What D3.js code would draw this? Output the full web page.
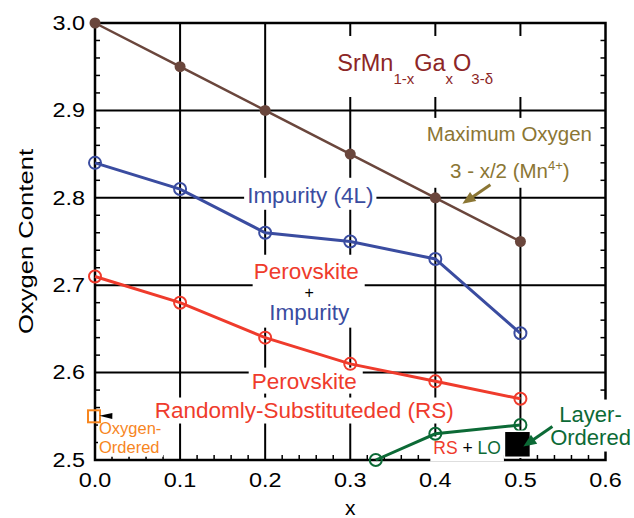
<!DOCTYPE html>
<html lang="en">
<head>
<meta charset="UTF-8">
<title>SrMn1-xGaxO3-d oxygen content</title>
<script src="https://cdn.jsdelivr.net/npm/d3@7"></script>
<style>
    body{ margin:0; background:#fff; }
    svg{ display:block; font-family:"Liberation Sans", Arial, sans-serif; }
    .grid line{ stroke:#000; stroke-width:2px; }
    .frame{ fill:none; stroke:#000; stroke-width:2.5px; }
    .minor line{ stroke:#000; stroke-width:1.5px; }
    .tick-label{ font-size:19.5px; fill:#000; }
    .axis-title{ font-size:21px; fill:#000; }
</style>
</head>
<body>
<script>
    // values
    const xTicks = [0.0, 0.1, 0.2, 0.3, 0.4, 0.5, 0.6];
    const yTicks = [2.5, 2.6, 2.7, 2.8, 2.9, 3.0];
    const xComp = [0.0, 0.1, 0.2, 0.3, 0.4, 0.5];
    const maxOxygen = [3.00, 2.95, 2.90, 2.85, 2.80, 2.75];
    const impurity4L = [2.84, 2.81, 2.76, 2.75, 2.73, 2.645];
    const perovskiteRS = [2.71, 2.68, 2.64, 2.61, 2.59, 2.57];
    const loX = [0.33, 0.40, 0.50];
    const loY = [2.50, 2.53, 2.54];
    const oxygenOrderedPt = [0.0, 2.55];
    const layerOrderedPt = [0.4965, 2.518];

    const colors = {
        brown: "#6a463c", blue: "#3a4ca0", red: "#ef3b2c", green: "#0c6a36",
        orange: "#f7861e", olive: "#8b7634", title: "#8c2626"
    };

    const width = 634, height = 518;
    const margins = { top: 23, right: 28.5, bottom: 58, left: 95 };

    const svg = d3.select("body").append("svg")
        .attr("width", width).attr("height", height)
        .attr("viewBox", `0,0,${width},${height}`);

    const xScale = d3.scaleLinear().domain([0, 0.6]).range([margins.left, width - margins.right]);
    const yScale = d3.scaleLinear().domain([2.5, 3.0]).range([height - margins.bottom, margins.top]);
    const [x0, x1] = xScale.range();
    const [y0, y1] = yScale.range();

    const gridLayer = svg.append("g").attr("class", "grid");
    const frameLayer = svg.append("g");
    const bgLayer = svg.append("g");
    const dataLayer = svg.append("g");
    const markLayer = svg.append("g");
    const textLayer = svg.append("g");
    const arrowLayer = svg.append("g");

    /* ---------- grid ---------- */
    gridLayer.selectAll(".vx").data(xTicks.slice(1, -1)).enter().append("line")
        .attr("x1", d => xScale(d)).attr("x2", d => xScale(d))
        .attr("y1", y0).attr("y2", y1);
    gridLayer.selectAll(".hy").data(yTicks.slice(1, -1)).enter().append("line")
        .attr("y1", d => yScale(d)).attr("y2", d => yScale(d))
        .attr("x1", x0).attr("x2", x1);

    /* ---------- frame + minor ticks ---------- */
    const minorY = d3.range(26).filter(i => i % 5 !== 0).map(i => 2.5 + i * 0.02);
    const minorX = d3.range(31).filter(i => i % 5 !== 0).map(i => i * 0.02);
    const minor = frameLayer.append("g").attr("class", "minor");
    minor.selectAll(".ml").data(minorY).enter().append("line")
        .attr("x1", x0).attr("x2", x0 + 5)
        .attr("y1", d => yScale(d)).attr("y2", d => yScale(d));
    minor.selectAll(".mr").data(minorY).enter().append("line")
        .attr("x1", x1 - 5).attr("x2", x1)
        .attr("y1", d => yScale(d)).attr("y2", d => yScale(d));
    minor.selectAll(".mb").data(minorX).enter().append("line")
        .attr("x1", d => xScale(d)).attr("x2", d => xScale(d))
        .attr("y1", y0).attr("y2", y0 - 5);
    frameLayer.append("rect").attr("class", "frame")
        .attr("x", x0).attr("y", y1).attr("width", x1 - x0).attr("height", y0 - y1);

    /* ---------- tick labels ---------- */
    const stretch = function (k) {
        return function () {
            const w = this.getComputedTextLength();
            d3.select(this).attr("textLength", w * k).attr("lengthAdjust", "spacingAndGlyphs");
        };
    };
    svg.append("g").selectAll("text").data(yTicks).enter().append("text")
        .attr("class", "tick-label")
        .attr("x", x0 - 10).attr("y", d => yScale(d) + 6.8)
        .attr("text-anchor", "end")
        .text(d => d3.format(".1f")(d))
        .each(stretch(1.2));
    svg.append("g").selectAll("text").data(xTicks).enter().append("text")
        .attr("class", "tick-label")
        .attr("x", d => xScale(d)).attr("y", y0 + 27)
        .attr("text-anchor", "middle")
        .text(d => d3.format(".1f")(d))
        .each(stretch(1.2));

    svg.append("text").attr("class", "axis-title")
        .attr("transform", `translate(33,${(y0 + y1) / 2}) rotate(-90)`)
        .attr("text-anchor", "middle")
        .text("Oxygen Content")
        .each(stretch(1.22));
    svg.append("text").attr("class", "axis-title")
        .attr("x", xScale(0.3)).attr("y", height - 3)
        .attr("text-anchor", "middle")
        .text("x");

    /* ---------- annotations (placed in data coords) ---------- */
    const labels = [
        { pad: [14, 34, 10, 7], lines: [
            { x: 0.2847, y: 2.9451, anchor: "start", size: 23.5, fill: colors.title,
              spans: [["SrMn"], ["1-x", "sub"], ["Ga"], ["x", "sub"], ["O"], ["3-δ", "sub"]] }] },
        { pad: [4, 5, 6, 3], lines: [
            { x: 0.4871, y: 2.8651, anchor: "middle", size: 20.5, fill: colors.olive, spans: [["Maximum Oxygen"]] },
            { x: 0.4876, y: 2.8229, anchor: "middle", size: 20.5, fill: colors.olive,
              spans: [["3 - x/2 (Mn"], ["4+", "sup"], [")"]] }] },
        { pad: [5, 3, 2, 3], lines: [
            { x: 0.1788, y: 2.7943, anchor: "start", size: 22.5, fill: colors.blue, spans: [["Impurity (4L)"]] }] },
        { pad: [4, 6, 3, 1], lines: [
            { x: 0.2482, y: 2.7074, anchor: "middle", size: 22.5, fill: colors.red, spans: [["Perovskite"]] },
            { x: 0.2518, y: 2.6857, anchor: "middle", size: 16, fill: "#000", spans: [["+"]] },
            { x: 0.2518, y: 2.6606, anchor: "middle", size: 22.5, fill: colors.blue, spans: [["Impurity"]] }] },
        { pad: [1, 6, 0, 3], lines: [
            { x: 0.2459, y: 2.5817, anchor: "middle", size: 22.5, fill: colors.red, spans: [["Perovskite"]] }] },
        { pad: [0, 3, 1, 3], lines: [
            { x: 0.2459, y: 2.5486, anchor: "middle", size: 22.5, fill: colors.red, spans: [["Randomly-Substituteded (RS)"]] }] },
        { pad: [1, 2, 1, 1], lines: [
            { x: 0.0047, y: 2.5303, anchor: "start", size: 16.5, fill: colors.orange, spans: [["Oxygen-"]] },
            { x: 0.0047, y: 2.5083, anchor: "start", size: 16.5, fill: colors.orange, spans: [["Ordered"]] }] },
        { pad: [2, 2, 2, 2], lines: [
            { x: 0.5824, y: 2.5440, anchor: "middle", size: 22, fill: colors.green, spans: [["Layer-"]] },
            { x: 0.5824, y: 2.5177, anchor: "middle", size: 22, fill: colors.green, spans: [["Ordered"]] }] },
        { pad: [2, 3, 3, 3], lines: [
            { x: 0.3976, y: 2.5063, anchor: "start", size: 17.5, fill: colors.red,
              spans: [["RS"], [" + ", "plain", "#000"], ["LO", "plain", colors.green]] }] }
    ];

    labels.forEach(group => {
        const nodes = [];
        group.lines.forEach(line => {
            const t = textLayer.append("text")
                .attr("x", xScale(line.x)).attr("y", yScale(line.y))
                .attr("text-anchor", line.anchor)
                .style("font-size", line.size + "px")
                .attr("fill", line.fill);
            let shift = 0;
            line.spans.forEach(([str, role, fill]) => {
                const target = role === "sub" ? 13 : role === "sup" ? -8 : 0;
                const sp = t.append("tspan").text(str).attr("dy", target - shift);
                if (role === "sub") sp.style("font-size", "15px");
                if (role === "sup") sp.style("font-size", "13px");
                if (fill) sp.attr("fill", fill);
                shift = target;
            });
            nodes.push(t.node());
        });
        const boxes = nodes.map(n => n.getBBox());
        const left = d3.min(boxes, b => b.x), top = d3.min(boxes, b => b.y);
        const right = d3.max(boxes, b => b.x + b.width), bottom = d3.max(boxes, b => b.y + b.height);
        const [pt, pr, pb, pl] = group.pad;
        bgLayer.append("rect")
            .attr("x", left - pl).attr("y", top - pt)
            .attr("width", right - left + pl + pr).attr("height", bottom - top + pt + pb)
            .attr("fill", "#fff");
    });

    /* ---------- series ---------- */
    const series = [
        { vals: maxOxygen, color: colors.brown, width: 2.5, filled: true },
        { vals: impurity4L, color: colors.blue, width: 3, filled: false },
        { vals: perovskiteRS, color: colors.red, width: 3, filled: false }
    ];
    const line = d3.line().x(d => xScale(d[0])).y(d => yScale(d[1]));

    series.forEach(s => {
        const pts = xComp.map((x, i) => [x, s.vals[i]]);
        dataLayer.append("path").datum(pts)
            .attr("d", line).attr("fill", "none")
            .attr("stroke", s.color).attr("stroke-width", s.width);
        markLayer.selectAll(null).data(pts).enter().append("circle")
            .attr("cx", d => xScale(d[0])).attr("cy", d => yScale(d[1]))
            .attr("r", s.filled ? 5.5 : 6)
            .attr("fill", s.filled ? s.color : "none")
            .attr("stroke", s.color).attr("stroke-width", s.filled ? 0 : 2);
    });

    const loPts = loX.map((x, i) => [x, loY[i]]);
    dataLayer.append("path").datum(loPts)
        .attr("d", line).attr("fill", "none")
        .attr("stroke", colors.green).attr("stroke-width", 3);
    markLayer.selectAll(null).data(loPts).enter().append("circle")
        .attr("cx", d => xScale(d[0])).attr("cy", d => yScale(d[1]))
        .attr("r", 6).attr("fill", "none")
        .attr("stroke", colors.green).attr("stroke-width", 2);

    // oxygen-ordered open square
    markLayer.append("rect")
        .attr("x", xScale(oxygenOrderedPt[0]) - 7).attr("y", yScale(oxygenOrderedPt[1]) - 6)
        .attr("width", 12).attr("height", 12)
        .attr("fill", "none").attr("stroke", colors.orange).attr("stroke-width", 2);

    // layer-ordered filled square
    markLayer.append("rect")
        .attr("x", xScale(layerOrderedPt[0]) - 13).attr("y", yScale(layerOrderedPt[1]) - 13)
        .attr("width", 26).attr("height", 26)
        .attr("fill", "#000").attr("stroke", "#fff").attr("stroke-width", 1.5);

    /* ---------- arrows ---------- */
    const arrows = [
        { from: [0.4647, 2.8149], to: [0.4318, 2.7931], color: colors.olive, w: 3, len: 13, half: 5.5 },
        { from: [0.5376, 2.5383], to: [0.5035, 2.5154], color: colors.green, w: 3, len: 13, half: 5.5 },
        { from: [0.0212, 2.5503], to: [0.0051, 2.5506], color: "#000", w: 0, len: 13, half: 3 }
    ];
    arrows.forEach(a => {
        const sx = xScale(a.from[0]), sy = yScale(a.from[1]);
        const tx = xScale(a.to[0]), ty = yScale(a.to[1]);
        const L = Math.hypot(tx - sx, ty - sy);
        const ux = (tx - sx) / L, uy = (ty - sy) / L;
        const bx = tx - ux * a.len, by = ty - uy * a.len;
        if (a.w > 0) {
            arrowLayer.append("line")
                .attr("x1", sx).attr("y1", sy).attr("x2", bx + ux * 2).attr("y2", by + uy * 2)
                .attr("stroke", a.color).attr("stroke-width", a.w);
        }
        arrowLayer.append("path")
            .attr("d", `M${tx},${ty}L${bx - uy * a.half},${by + ux * a.half}L${bx + uy * a.half},${by - ux * a.half}Z`)
            .attr("fill", a.color);
    });
</script>
</body>
</html>
